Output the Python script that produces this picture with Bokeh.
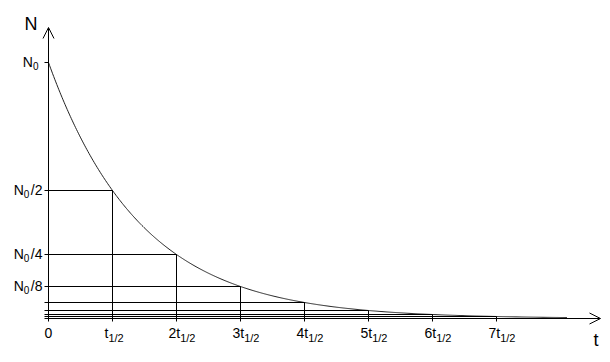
import numpy as np
from bokeh.plotting import figure
from bokeh.models import Range1d, Arrow, OpenHead, ColumnDataSource
from bokeh.core.properties import value
from bokeh.embed import file_html
from bokeh.resources import INLINE

# ---- chart values ----
half_lives = [0, 1, 2, 3, 4, 5, 6, 7]
remaining = [1, 1/2, 1/4, 1/8, 1/16, 1/32, 1/64, 1/128]   # fraction of N0
x_tick_main = ["0", "t", "2t", "3t", "4t", "5t", "6t", "7t"]
x_tick_sub = ["", "1/2", "1/2", "1/2", "1/2", "1/2", "1/2", "1/2"]
y_label_values = [1, 1/2, 1/4, 1/8]
y_label_main = ["N", "N", "N", "N"]
y_label_sub = ["0", "0", "0", "0"]
y_label_suffix = ["", "/2", "/4", "/8"]
curve_end = 8.1          # curve drawn up to ~8 half-lives
y_axis_title = "N"
x_axis_title = "t"

# ---- layout (pixels) ----
W, H = 610, 362
PX, PY = 64.0, 256.0      # pixels per half-life, pixels per N0
X0, Y0 = 48.0, 318.0      # canvas pixel of the origin
FONT = "Liberation Sans"
MAIN, SUB, TSUB = 14, 10, 11

def dx(px):
    return px / PX

def dy(px):
    return px / PY

CW = {"N": 0.722, "t": 0.278, "/": 0.278}
def width(s, size):
    return sum(CW.get(c, 0.556) for c in s) * size

p = figure(width=W, height=H, output_backend="svg", toolbar_location=None,
           x_range=Range1d(-X0 / PX, (W - X0) / PX),
           y_range=Range1d(-(H - Y0) / PY, Y0 / PY),
           min_border=0, outline_line_color=None,
           x_axis_location=None, y_axis_location=None,
           background_fill_color="white", border_fill_color="white")
p.grid.visible = False

# decay curve N = N0 * (1/2)^(t / t_half)
t = np.linspace(0, curve_end, 500)
p.line(t, 0.5 ** t, line_color="#222222", line_width=1)

# horizontal guide lines (incl. the N0 tick)
hx0 = [-dx(4)] * len(half_lives)
hx1 = half_lives
p.segment(x0=hx0, y0=remaining, x1=hx1, y1=remaining, line_color="black", line_width=1)

# vertical guide lines
vx = half_lives[1:]
p.segment(x0=vx, y0=[-dy(3)] * len(vx), x1=vx, y1=remaining[1:],
          line_color="black", line_width=1)

# axes with open arrow heads
p.add_layout(Arrow(end=OpenHead(size=11, line_width=1, line_color="black"),
                   x_start=-dx(4), y_start=0, x_end=(600 - X0) / PX, y_end=0,
                   line_color="black", line_width=1))
p.add_layout(Arrow(end=OpenHead(size=11, line_width=1, line_color="black"),
                   x_start=0, y_start=-dy(3), x_end=0, y_end=(Y0 - 27) / PY,
                   line_color="black", line_width=1))

def txt(xs, ys, texts, size, align):
    src = ColumnDataSource(dict(x=xs, y=ys, text=texts))
    p.text(x="x", y="y", text="text", source=src, text_font=value(FONT),
           text_font_size=f"{size}px", text_align=align,
           text_baseline="middle", text_color="black")

# y labels: N, subscript 0, suffix (vertically centred on their line)
mx, my, sx, sy, fx, fy = [], [], [], [], [], []
for v, suf in zip(y_label_values, y_label_suffix):
    right = -6 if suf else -10
    fx.append(dx(right)); fy.append(v + dy(0.5))
    sub_right = right - width(suf, MAIN) - (1.5 if suf else 0)
    sx.append(dx(sub_right)); sy.append(v - dy(3))
    mx.append(dx(sub_right - width("0", SUB))); my.append(v + dy(0.5))
txt(mx, my, y_label_main, MAIN, "right")
txt(sx, sy, y_label_sub, SUB, "right")
txt(fx, fy, y_label_suffix, MAIN, "right")

# x tick labels
tmx, tmy, tsx, tsy = [], [], [], []
for h, m, s in zip(half_lives, x_tick_main, x_tick_sub):
    left = -8 if s else -width(m, MAIN) / 2
    tmx.append(h + dx(left)); tmy.append(-dy(14))
    tsx.append(h + dx(left + width(m, MAIN))); tsy.append(-dy(19.5))
txt(tmx, tmy, x_tick_main, MAIN, "left")
txt(tsx, tsy, x_tick_sub, TSUB, "left")

# axis titles
txt([dx(24 - X0)], [dy(Y0 - 23)], [y_axis_title], 18, "left")
txt([dx(593 - X0)], [dy(Y0 - 339.5)], [x_axis_title], 18, "left")

open("out.html", "w").write(file_html(p, INLINE))
